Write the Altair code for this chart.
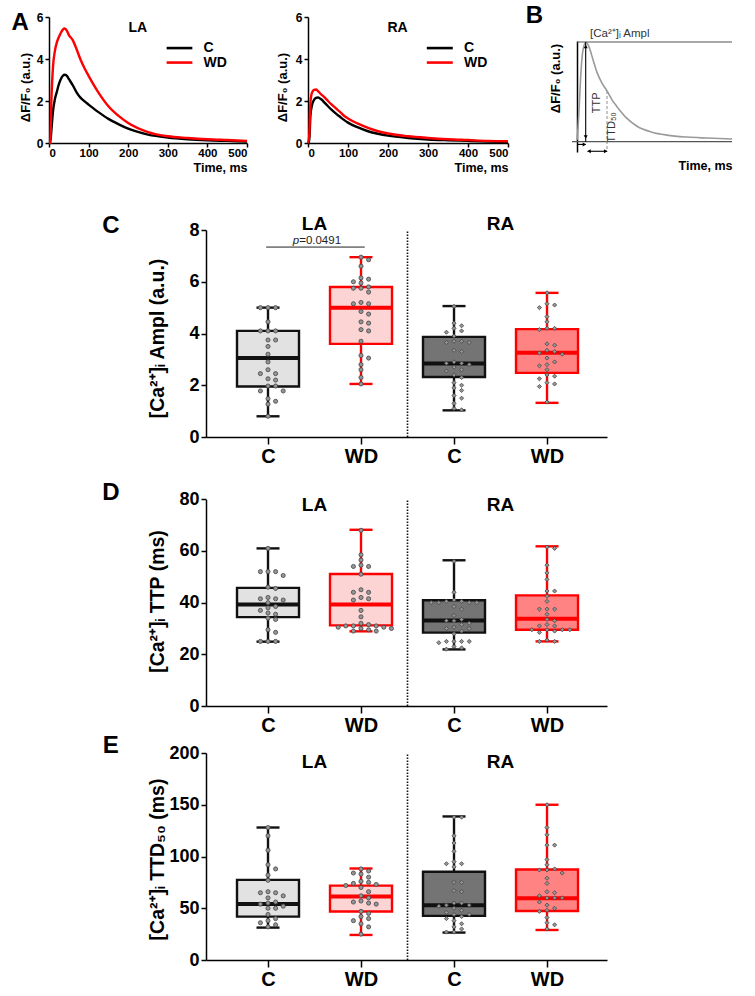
import json
import altair as alt
import pandas as pd

FONT = "Liberation Sans"
RED = "#ff0000"
W, H = 755, 996

# ---------------- Panel A: averaged Ca2+ transients ----------------
time_ms = [0, 3, 6, 10, 15, 20, 25, 30, 35, 40, 45, 50, 60, 70, 80, 90, 100,
           125, 150, 175, 200, 250, 300, 350, 400, 450, 500]
la_c = [0, 0, 0.6, 1.5, 2.1, 2.45, 2.8, 3.05, 3.2, 3.25, 3.2, 3.05, 2.75, 2.4, 2.15,
        1.98, 1.83, 1.47, 1.15, 0.9, 0.68, 0.4, 0.26, 0.18, 0.13, 0.1, 0.07]
la_wd = [0, 0, 2.0, 3.6, 4.4, 4.8, 5.05, 5.25, 5.4, 5.45, 5.35, 5.15, 4.9, 4.45, 3.95,
         3.55, 3.2, 2.4, 1.75, 1.3, 0.95, 0.52, 0.32, 0.24, 0.18, 0.14, 0.1]
ra_c = [0, 0, 1.3, 1.8, 2.05, 2.15, 2.17, 2.12, 2.05, 1.95, 1.85, 1.75, 1.57, 1.4, 1.25,
        1.1, 0.97, 0.74, 0.56, 0.44, 0.35, 0.24, 0.17, 0.13, 0.1, 0.07, 0.05]
ra_wd = [0, 0.3, 1.9, 2.4, 2.53, 2.55, 2.47, 2.37, 2.28, 2.2, 2.1, 2.0, 1.82, 1.65, 1.48,
         1.3, 1.17, 0.92, 0.72, 0.56, 0.45, 0.32, 0.24, 0.18, 0.14, 0.1, 0.08]
trace_xticks = [0, 100, 200, 300, 400, 500]
trace_yticks = [0, 2, 4, 6]

# ---------------- Panel B: schematic transient ----------------
b_time = [0, 1, 2, 4, 6, 9, 12, 16, 20, 25, 30, 35, 40, 50, 60, 75, 90, 110, 130, 155]
b_val = [0, 0.12, 0.3, 0.7, 0.92, 1.0, 0.95, 0.82, 0.69, 0.58, 0.5, 0.41, 0.34, 0.22,
         0.14, 0.08, 0.05, 0.03, 0.02, 0.01]

# ---------------- Panels C-E: box plots ----------------
groups = ["LA C", "LA WD", "RA C", "RA WD"]
atria = ["LA", "LA", "RA", "RA"]
diets = ["C", "WD", "C", "WD"]
positions = [0, 1, 2, 3]

ampl_min = [0.8, 2.05, 1.03, 1.32]
ampl_q1 = [1.95, 3.6, 2.32, 2.48]
ampl_med = [3.05, 5.0, 2.84, 3.26]
ampl_q3 = [4.1, 5.8, 3.87, 4.17]
ampl_max = [5.0, 6.95, 5.06, 5.57]
ampl_dots = [
    [5.0, 5.0, 5.0, 4.45, 4.1, 4.1, 4.1, 3.75, 3.75, 3.5, 3.2, 2.9, 2.6, 2.45, 2.45,
     2.25, 2.2, 1.97, 1.97, 1.78, 1.78, 1.48, 1.38, 1.27, 0.8],
    [6.95, 6.85, 6.6, 6.15, 6.1, 6.0, 5.95, 5.8, 5.75, 5.75, 5.6, 5.2, 5.15, 5.15, 4.85,
     4.75, 4.45, 4.4, 4.15, 4.1, 3.7, 3.15, 3.05, 2.8, 2.6, 2.3, 2.05],
    [5.05, 4.4, 4.3, 4.2, 4.1, 4.05, 3.9, 3.7, 3.65, 3.65, 3.7, 3.35, 3.3, 2.9, 2.85,
     2.85, 2.8, 2.7, 2.6, 2.55, 2.4, 2.3, 2.1, 2.0, 1.9, 1.8, 1.6, 1.5, 1.3, 1.1, 1.05],
    [5.57, 5.15, 5.1, 5.0, 4.65, 4.45, 4.2, 4.2, 4.15, 3.6, 3.55, 3.35, 3.3, 3.25, 3.2,
     3.05, 2.9, 2.8, 2.75, 2.6, 2.4, 2.35, 2.25, 2.1, 2.05, 1.95, 1.35],
]

ttp_min = [24.9, 28.9, 21.9, 25.0]
ttp_q1 = [34.4, 31.2, 28.4, 29.5]
ttp_med = [39.3, 39.3, 33.1, 33.8]
ttp_q3 = [45.7, 51.1, 40.9, 42.8]
ttp_max = [61.0, 68.2, 56.4, 61.8]
ttp_dots = [
    [61, 52, 52, 52, 50.5, 46, 45.5, 42, 41.5, 41.5, 41, 40, 38.5, 38, 37, 36, 35.5,
     34, 33.5, 29.5, 28.5, 25, 25, 25],
    [68, 58.5, 56.5, 54.5, 54, 54, 51, 45, 44, 44, 42, 41.5, 41, 37, 34.5, 32, 31.5,
     31, 31, 31, 30.5, 30.5, 30, 30, 29.5, 29, 29],
    [56, 44, 41, 40.5, 40.5, 40, 40, 40, 40, 38.5, 37.5, 35, 33.5, 33, 33, 32, 31.5,
     30.5, 30, 30, 29, 28, 25, 25, 25, 25, 24.5, 23, 22.5, 22],
    [61.5, 61, 54.5, 51.5, 49, 44.5, 44.5, 42.5, 40.5, 37.5, 37.5, 37.5, 35.5, 33.5,
     33, 31.5, 31, 31, 29.5, 29.5, 29.5, 29.5, 29, 28.5, 25.5, 25, 25],
]

ttd_min = [31.3, 24.2, 26.5, 29.0]
ttd_q1 = [41.9, 46.8, 42.6, 47.4]
ttd_med = [54.2, 61.3, 52.9, 59.7]
ttd_q3 = [77.4, 71.9, 85.2, 87.4]
ttd_max = [128, 88.4, 138.7, 150]
ttd_dots = [
    [128, 120, 106, 92, 88, 82, 77, 66, 65, 65, 62, 60, 56, 55, 54, 52, 50, 50, 44, 40,
     38, 36, 34, 32],
    [88, 86, 84, 83, 80, 76, 75, 74, 73, 72, 70, 66, 62, 60, 57, 56, 55, 54, 47, 45,
     42, 40, 38, 35, 32, 25],
    [138, 138, 120, 113, 105, 95, 93, 93, 90, 75, 75, 67, 66, 55, 55, 53, 53, 52, 50,
     48, 46, 44, 44, 42, 40, 38, 35, 32, 30, 27, 27],
    [150, 128, 121, 111, 111, 97, 92, 88, 87, 87, 84, 79, 74, 66, 65, 62, 60, 60, 60,
     56, 53, 50, 48, 47, 41, 36, 34, 30],
]

# ---------------- styling ----------------
LINE_COLOR = {"C": "#000000", "WD": RED}
BOX_STROKE = {"C": "#111111", "WD": RED}
BOX_FILL = {"LA C": "#e2e2e2", "LA WD": "#fcd4d4", "RA C": "#747474", "RA WD": "#ff8383"}

A_TOP, A_BOTTOM = 17, 143
BOX_X = (206, 607)
BOX_XDOM = [-0.6667, 3.645]
BOX_PX_PER_UNIT = (BOX_X[1] - BOX_X[0]) / (BOX_XDOM[1] - BOX_XDOM[0])


def ax(**kw):
    base = dict(grid=False, domainColor="black", tickColor="black",
                labelColor="black", titleColor="black",
                labelFont=FONT, titleFont=FONT,
                labelFontWeight="bold", titleFontWeight="bold")
    base.update(kw)
    return alt.Axis(**base)


def text_layer(df, X, Y, **mark):
    style = dict(font=FONT, baseline="middle", color="black")
    style.update(mark)
    return alt.Chart(df).mark_text(**style).encode(x=X("x"), y=Y("y"), text="label:N")


# ---------------- Panel A ----------------
def trace_panel(atrium, c_vals, wd_vals, x_left, x_right, ytitle_x, letter=None):
    n = len(time_ms)
    df = pd.DataFrame({"t": time_ms + time_ms, "v": c_vals + wd_vals,
                       "diet": ["C"] * n + ["WD"] * n})
    df["lc"] = df["diet"].map(LINE_COLOR)
    xs = alt.Scale(domain=[0, 500], range=[x_left, x_right], nice=False)
    ys = alt.Scale(domain=[0, 6], range=[A_BOTTOM, A_TOP], nice=False)
    xax = ax(orient="bottom", offset=A_BOTTOM - H, values=trace_xticks, tickSize=4,
             tickWidth=1.5, domainWidth=1.5, labelFontSize=11.5, labelPadding=0,
             title="Time, ms", titleFontSize=12.5, titleAnchor="end",
             titleBaseline="middle", titleY=24)
    yax = ax(orient="left", offset=-x_left, values=trace_yticks, tickSize=4,
             tickWidth=1.5, domainWidth=1.5, labelFontSize=12, labelPadding=2,
             title="ΔF/F₀ (a.u.)", titleFontSize=13, titleAngle=270,
             titleBaseline="middle", titleX=ytitle_x, titleY=87)

    def X(f):
        return alt.X(f, type="quantitative", scale=xs, axis=xax)

    def Y(f):
        return alt.Y(f, type="quantitative", scale=ys, axis=yax)

    lines = alt.Chart(df).mark_line(strokeWidth=2.4, interpolate="monotone").encode(
        x=X("t"), y=Y("v"), color=alt.Color("lc:N", scale=None), detail="diet:N")

    leg = pd.DataFrame({"diet": ["C", "WD"], "t0": [297, 297], "t1": [362, 362],
                        "x": [390, 390], "y": [4.52, 3.83]})
    leg["lc"] = leg["diet"].map(LINE_COLOR)
    leg["label"] = leg["diet"]
    leg_lines = alt.Chart(leg).mark_rule(strokeWidth=2.6).encode(
        x=X("t0"), x2=alt.X2("t1"), y=Y("y"), color=alt.Color("lc:N", scale=None))
    leg_text = text_layer(leg, X, Y, align="left", fontSize=14, fontWeight="bold")

    head = pd.DataFrame({"label": [atrium], "x": [224], "y": [5.5]})
    title = text_layer(head, X, Y, align="center", fontSize=14, fontWeight="bold")
    layers = [lines, leg_lines, leg_text, title]
    if letter:
        let = pd.DataFrame({"label": [letter], "x": [-73], "y": [5.7]})
        layers.append(text_layer(let, X, Y, align="center", fontSize=24, fontWeight="bold"))
    return alt.layer(*layers)


# ---------------- Panel B ----------------
def schematic_panel():
    xs = alt.Scale(domain=[0, 155], range=[577, 732], nice=False)
    ys = alt.Scale(domain=[-0.1224, 1.0102], range=[152, 41], nice=False)
    xax = ax(orient="bottom", offset=140 - H, domain=False, labels=False, ticks=False,
             title="Time, ms", titleFontSize=12.5, titleAnchor="end",
             titleBaseline="middle", titleY=25)
    yax = ax(orient="left", offset=-577, labels=False, ticks=False, domainWidth=1.5,
             title="ΔF/F₀ (a.u.)", titleFontSize=13, titleAngle=270,
             titleBaseline="middle", titleX=-22, titleY=78)

    def X(f):
        return alt.X(f, type="quantitative", scale=xs, axis=xax)

    def Y(f):
        return alt.Y(f, type="quantitative", scale=ys, axis=yax)

    curve = alt.Chart(pd.DataFrame({"t": b_time, "v": b_val})).mark_line(
        color="#9a9a9a", strokeWidth=1.6, interpolate="monotone").encode(x=X("t"), y=Y("v"))

    guides = pd.DataFrame({"t0": [0, -5], "t1": [155, 155], "v": [1.0, -0.017]})
    guide_lines = alt.Chart(guides).mark_rule(color="#555555", strokeWidth=1.2).encode(
        x=X("t0"), x2=alt.X2("t1"), y=Y("v"))

    # TTP: vertical double arrow at the peak time
    ttp = pd.DataFrame({"t": [8.7], "v0": [-0.017], "v1": [1.0]})
    ttp_rule = alt.Chart(ttp).mark_rule(color="black", strokeWidth=1.1).encode(
        x=X("t"), y=Y("v0"), y2=alt.Y2("v1"))
    heads_v = pd.DataFrame({"t": [8.7, 8.7], "v": [0.955, 0.03],
                            "shape": ["triangle-up", "triangle-down"]})
    ttp_heads = alt.Chart(heads_v).mark_point(filled=True, color="black", size=16,
                                             opacity=1).encode(
        x=X("t"), y=Y("v"), shape=alt.Shape("shape:N", scale=None))

    # TTD50 marker
    ttd = pd.DataFrame({"t": [30], "v0": [0.5], "v1": [-0.12]})
    ttd_rule = alt.Chart(ttd).mark_rule(color="#999999", strokeWidth=1.1,
                                        strokeDash=[3, 2]).encode(
        x=X("t"), y=Y("v0"), y2=alt.Y2("v1"))

    # horizontal time arrows
    harrows = pd.DataFrame({"t0": [0, 10.7], "t1": [8.7, 30], "v": [-0.045, -0.115]})
    h_rules = alt.Chart(harrows).mark_rule(color="black", strokeWidth=1.1).encode(
        x=X("t0"), x2=alt.X2("t1"), y=Y("v"))
    heads_h = pd.DataFrame({"t": [7.4, 12.0, 28.7], "v": [-0.045, -0.115, -0.115],
                            "shape": ["triangle-right", "triangle-left", "triangle-right"]})
    h_heads = alt.Chart(heads_h).mark_point(filled=True, color="black", size=16,
                                           opacity=1).encode(
        x=X("t"), y=Y("v"), shape=alt.Shape("shape:N", scale=None))

    notes = pd.DataFrame({"label": ["[Ca²⁺]ᵢ Ampl"], "x": [13], "y": [1.08]})
    note_ampl = text_layer(notes, X, Y, align="left", fontSize=11.5, color="#333333")
    note_ttp = text_layer(pd.DataFrame({"label": ["TTP"], "x": [19.7], "y": [0.38]}),
                          X, Y, align="center", fontSize=11, angle=270, color="#333333")
    note_ttd = text_layer(pd.DataFrame({"label": ["TTD₅₀"], "x": [34.5], "y": [0.13]}),
                          X, Y, align="center", fontSize=11, angle=270, color="#333333")
    letter = text_layer(pd.DataFrame({"label": ["B"], "x": [-42.5], "y": [1.27]}),
                        X, Y, align="center", fontSize=24, fontWeight="bold")
    return alt.layer(guide_lines, curve, ttd_rule, ttp_rule, ttp_heads, h_rules, h_heads,
                     note_ampl, note_ttp, note_ttd, letter)


# ---------------- Panels C-E ----------------
def swarm_offsets(values, px_per_unit, sep=5.0, col_px=7.6):
    """Column offsets (px) so that points sharing a column do not overlap."""
    order = sorted(range(len(values)), key=lambda i: -values[i])
    cols = [0]
    for k in range(1, 14):
        cols += [k, -k]
    placed = []
    out = [0.0] * len(values)
    for i in order:
        p = values[i] * px_per_unit
        for c in cols:
            if all(pc != c or abs(pp - p) >= sep for pc, pp in placed):
                placed.append((c, p))
                out[i] = c * col_px
                break
    return out


def box_panel(lo, q1, med, q3, hi, dots, y_max, y_ticks, y_bottom, y_top, ytitle,
              ytitle_y, head_y, letter, letter_y, pval=None):
    xs = alt.Scale(domain=BOX_XDOM, range=list(BOX_X), nice=False)
    ys = alt.Scale(domain=[0, y_max], range=[y_bottom, y_top], nice=False)
    y_px = (y_bottom - y_top) / y_max
    xax = ax(orient="bottom", offset=y_bottom - H, values=positions,
             labelExpr=json.dumps(diets) + "[datum.value]", tickSize=7, tickWidth=1.5,
             domainWidth=1.5, labelFontSize=20, labelPadding=2, title=None)
    yax = ax(orient="left", offset=-BOX_X[0], values=y_ticks, tickSize=5, tickWidth=1.5,
             domainWidth=1.5, labelFontSize=18, labelPadding=2, title=ytitle,
             titleFontSize=19.5, titleAngle=270, titleBaseline="middle", titleX=-49,
             titleY=ytitle_y)

    def X(f):
        return alt.X(f, type="quantitative", scale=xs, axis=xax)

    def Y(f):
        return alt.Y(f, type="quantitative", scale=ys, axis=yax)

    box = pd.DataFrame({"pos": positions, "group": groups, "diet": diets,
                        "lo": lo, "q1": q1, "med": med, "q3": q3, "hi": hi})
    box["fill"] = box["group"].map(BOX_FILL)
    box["line"] = box["diet"].map(BOX_STROKE)
    stroke = alt.Color("line:N", scale=None)
    base = alt.Chart(box)

    whisker = base.mark_rule(strokeWidth=2.4).encode(x=X("pos"), y=Y("lo"),
                                                    y2=alt.Y2("hi"), color=stroke)
    body = base.mark_rect(xOffset=-31, x2Offset=31, strokeWidth=2.4).encode(
        x=X("pos"), x2=alt.X2("pos"), y=Y("q1"), y2=alt.Y2("q3"),
        fill=alt.Fill("fill:N", scale=None), stroke=alt.Stroke("line:N", scale=None))
    median = base.mark_rule(xOffset=-31, x2Offset=31, strokeWidth=4).encode(
        x=X("pos"), x2=alt.X2("pos"), y=Y("med"), color=stroke)
    cap_lo = base.mark_rule(xOffset=-11.5, x2Offset=11.5, strokeWidth=2.4).encode(
        x=X("pos"), x2=alt.X2("pos"), y=Y("lo"), color=stroke)
    cap_hi = base.mark_rule(xOffset=-11.5, x2Offset=11.5, strokeWidth=2.4).encode(
        x=X("pos"), x2=alt.X2("pos"), y=Y("hi"), color=stroke)

    rows = []
    for pos, atrium, vals in zip(positions, atria, dots):
        offs = swarm_offsets(vals, y_px)
        for v, o in zip(vals, offs):
            rows.append({"x": pos + o / BOX_PX_PER_UNIT, "v": v, "atrium": atrium})
    pts = pd.DataFrame(rows)
    la_pts = alt.Chart(pts[pts["atrium"] == "LA"]).mark_point(
        shape="circle", filled=True, color="#969696", stroke="#444444", strokeWidth=0.8,
        size=17, opacity=1).encode(x=X("x"), y=Y("v"))
    ra_pts = alt.Chart(pts[pts["atrium"] == "RA"]).mark_point(
        shape="diamond", filled=True, color="#969696", stroke="#444444", strokeWidth=0.8,
        size=17, opacity=1).encode(x=X("x"), y=Y("v"))

    divider = alt.Chart(pd.DataFrame({"pos": [1.5], "y0": [0], "y1": [y_max]})).mark_rule(
        color="#111111", strokeWidth=1.6, strokeDash=[1.5, 1.5]).encode(
        x=X("pos"), y=Y("y0"), y2=alt.Y2("y1"))

    heads = pd.DataFrame({"label": ["LA", "RA"], "x": [0.5, 2.5], "y": [head_y, head_y]})
    head_text = text_layer(heads, X, Y, align="center", fontSize=19, fontWeight="bold")
    let = pd.DataFrame({"label": [letter], "x": [-1.69], "y": [letter_y]})
    letter_text = text_layer(let, X, Y, align="center", fontSize=24, fontWeight="bold")

    layers = [divider, whisker, body, median, cap_lo, cap_hi, la_pts, ra_pts,
              head_text, letter_text]
    if pval:
        v_line, text = pval
        br = pd.DataFrame({"x0": [-0.02], "x1": [1.04], "y": [v_line]})
        layers.append(alt.Chart(br).mark_rule(color="#222222", strokeWidth=1).encode(
            x=X("x0"), x2=alt.X2("x1"), y=Y("y")))
        layers.append(text_layer(pd.DataFrame({"label": ["p"], "x": [0.335],
                                               "y": [v_line + 0.22]}),
                                 X, Y, align="right", fontSize=11.5, fontStyle="italic",
                                 color="#222222"))
        layers.append(text_layer(pd.DataFrame({"label": [text], "x": [0.335],
                                               "y": [v_line + 0.22]}),
                                 X, Y, align="left", fontSize=11.5, color="#222222"))
    return alt.layer(*layers)


a_la = trace_panel("LA", la_c, la_wd, 49, 247, -24, letter="A")
a_ra = trace_panel("RA", ra_c, ra_wd, 308, 508, -26)
b_panel = schematic_panel()

c_panel = box_panel(ampl_min, ampl_q1, ampl_med, ampl_q3, ampl_max, ampl_dots, 8,
                    [0, 2, 4, 6, 8], 437, 230, "[Ca²⁺]ᵢ Ampl (a.u.)", 338, 8.22,
                    "C", 8.15, pval=(7.34, "=0.0491"))
d_panel = box_panel(ttp_min, ttp_q1, ttp_med, ttp_q3, ttp_max, ttp_dots, 80,
                    [0, 20, 40, 60, 80], 706, 499.3, "[Ca²⁺]ᵢ TTP (ms)", 601, 77.8,
                    "D", 82.4)
e_panel = box_panel(ttd_min, ttd_q1, ttd_med, ttd_q3, ttd_max, ttd_dots, 200,
                    [0, 50, 100, 150, 200], 960, 753, "[Ca²⁺]ᵢ TTD₅₀ (ms)", 859, 191.5,
                    "E", 206.8)

chart = (
    alt.layer(a_la, a_ra, b_panel, c_panel, d_panel, e_panel)
    .resolve_scale(x="independent", y="independent")
    .resolve_axis(x="independent", y="independent")
    .properties(width=W, height=H, autosize=alt.AutoSizeParams(type="none"), padding=0)
    .configure(font=FONT)
    .configure_view(stroke=None)
)

chart.save("out.html", embed_options={"renderer": "svg", "actions": False})
